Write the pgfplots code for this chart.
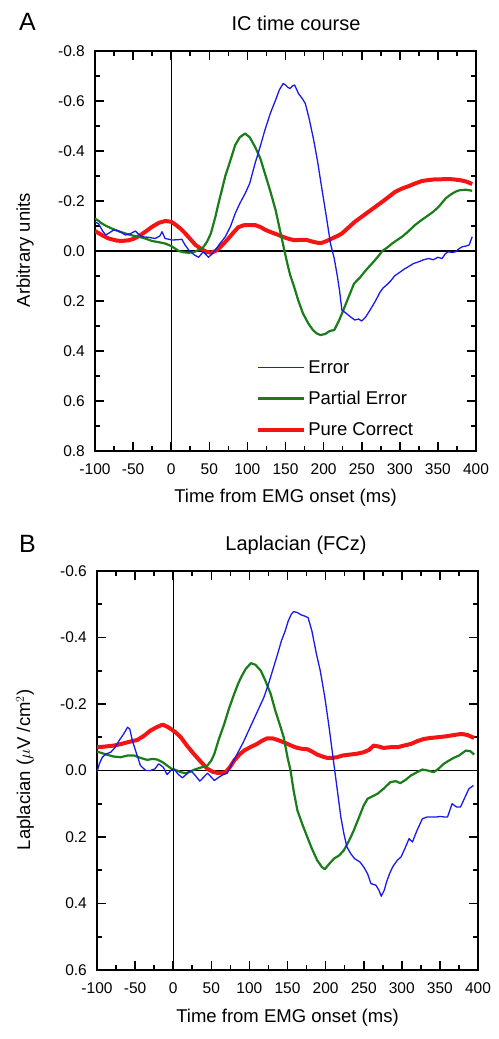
\documentclass[border=0pt]{standalone}
\usepackage{pgfplots}
\pgfplotsset{compat=1.18}
\usepackage{fontspec}
\setmainfont{Liberation Sans}
\definecolor{cblue}{RGB}{25,25,235}
\definecolor{cgreen}{RGB}{25,125,25}
\definecolor{cred}{RGB}{245,20,20}
\pgfplotsset{
  myaxis/.style={
    scale only axis, width=381bp,
    xmin=-100, xmax=400,
    xtick={-100,-50,...,400},
    xticklabels={-100,-50,0,50,100,150,200,250,300,350,400},
    minor x tick num=1, minor y tick num=1,
    tick align=inside,
    major tick length=9bp, minor tick length=5bp,
    separate axis lines,
    every outer x axis line/.append style={line width=2bp, line cap=rect},
    every outer y axis line/.append style={line width=2bp, line cap=rect},
    every tick/.style={black, line width=1.6bp},
    y dir=reverse,
    tick label style={font=\fontsize{15.5bp}{18bp}\selectfont},
    yticklabel style={inner sep=0pt, anchor=east, xshift=-10bp},
    xticklabel style={inner sep=0pt, anchor=north, yshift=-12bp},
    legend style={draw=none, fill=none, font=\fontsize{18.5bp}{22bp}\selectfont, row sep=12.5bp},
    legend cell align=left,
    legend image code/.code={\draw[##1] (0bp,0bp) -- (46bp,0bp);},
  },
  zl/.style={black, line width=1.4bp, forget plot},
  sb/.style={cblue, line width=1.3bp, line join=round},
  sg/.style={cgreen, line width=2.2bp, line join=round},
  sr/.style={cred, line width=4bp, line join=round},
}
\begin{document}
\begin{tikzpicture}
\path[use as bounding box] (0bp,0bp) rectangle (499bp,-1039bp);
% Panel A
\node[font=\fontsize{25bp}{28bp}\selectfont] at (27.5bp,-22bp) {A};
\node[font=\fontsize{20bp}{24bp}\selectfont] at (296bp,-23bp) {IC time course};
\node[font=\fontsize{18.5bp}{22bp}\selectfont] at (285.5bp,-498bp) {Time from EMG onset (ms)};
\node[font=\fontsize{18.5bp}{22bp}\selectfont, rotate=90] at (25bp,-250bp) {Arbitrary units};
\begin{axis}[myaxis, at={(95bp,-451bp)}, anchor=south west, height=400bp,
  ymin=-0.8, ymax=0.8, ytick={-0.8,-0.6,...,0.81},
  yticklabels={-0.8,-0.6,-0.4,-0.2,0.0,0.2,0.4,0.6,0.8},
  legend style={at={(axis description cs:0.415,0.237)}, anchor=north west}]
\addlegendimage{sb}\addlegendentry{Error}
\addlegendimage{sg}\addlegendentry{Partial Error}
\addlegendimage{sr}\addlegendentry{Pure Correct}
\addplot[zl] coordinates {(-100,0) (400,0)};
\addplot[zl] coordinates {(0,-0.8) (0,0.8)};
\addplot[sr, forget plot] coordinates {
(-100,-0.08) (-90,-0.062) (-82,-0.05) (-72,-0.042) (-65,-0.04) (-56,-0.043) (-50,-0.048) (-42,-0.06) (-34,-0.077) (-25,-0.097) (-16,-0.113) (-8,-0.12) (0,-0.117) (5,-0.107) (12,-0.09) (18,-0.072) (25,-0.048) (32,-0.024) (40,-0.007) (46,0.003) (52,0.007) (58,0.0) (63,-0.012) (69,-0.03) (75,-0.05) (82,-0.075) (88,-0.095) (95,-0.103) (102,-0.104) (110,-0.104) (117,-0.096) (124,-0.084) (132,-0.074) (141,-0.064) (148,-0.055) (155,-0.048) (162,-0.043) (170,-0.045) (178,-0.044) (186,-0.037) (192,-0.033) (198,-0.033) (204,-0.04) (211,-0.05) (218,-0.06) (224,-0.07) (232,-0.092) (241,-0.117) (250,-0.137) (259,-0.157) (268,-0.177) (277,-0.197) (286,-0.218) (294,-0.237) (303,-0.25) (312,-0.26) (320,-0.27) (329,-0.28) (338,-0.284) (347,-0.287) (355,-0.287) (364,-0.288) (372,-0.286) (380,-0.283) (388,-0.277) (395,-0.268)};
\addplot[sg, forget plot] coordinates {
(-100,-0.13) (-95,-0.12) (-91,-0.11) (-85,-0.1) (-78,-0.09) (-70,-0.08) (-60,-0.07) (-52,-0.063) (-43,-0.057) (-34,-0.05) (-25,-0.04) (-16,-0.035) (-8,-0.03) (0,-0.02) (5,-0.01) (10,0.0) (16,0.005) (23,0.007) (30,0.004) (36,-0.004) (42,-0.015) (47,-0.037) (52,-0.07) (58,-0.137) (62,-0.19) (67,-0.25) (71,-0.3) (75,-0.337) (80,-0.385) (84,-0.424) (90,-0.455) (97,-0.47) (103,-0.455) (110,-0.417) (117,-0.37) (123,-0.31) (130,-0.24) (137,-0.164) (143,-0.08) (148,-0.01) (152,0.045) (156,0.095) (161,0.14) (167,0.2) (173,0.25) (180,0.29) (186,0.316) (191,0.33) (196,0.336) (202,0.332) (208,0.32) (214,0.316) (220,0.28) (226,0.236) (232,0.19) (240,0.13) (248,0.105) (256,0.075) (265,0.045) (272,0.02) (277,0.0) (284,-0.015) (290,-0.03) (297,-0.045) (303,-0.057) (311,-0.078) (320,-0.104) (329,-0.125) (338,-0.144) (345,-0.16) (351,-0.177) (356,-0.195) (360,-0.21) (365,-0.222) (370,-0.232) (375,-0.24) (380,-0.244) (387,-0.245) (395,-0.241)};
\addplot[sb, forget plot] coordinates {
(-100,-0.117) (-95,-0.108) (-90,-0.08) (-86,-0.064) (-80,-0.075) (-75.5,-0.084) (-70,-0.082) (-67,-0.077) (-60,-0.064) (-53,-0.07) (-47,-0.08) (-42,-0.065) (-38,-0.057) (-30,-0.055) (-21,-0.05) (-15,-0.06) (-12,-0.077) (-8,-0.05) (-3,-0.047) (1,-0.044) (8,-0.045) (14,-0.047) (18,-0.025) (23,-0.004) (30,0.015) (36,0.025) (42,0.003) (49,0.025) (54,0.01) (58,-0.004) (64,-0.03) (71,-0.057) (78,-0.1) (84,-0.15) (90,-0.19) (97,-0.23) (103,-0.27) (110,-0.35) (117,-0.42) (123,-0.484) (130,-0.55) (137,-0.604) (142,-0.645) (147,-0.67) (150,-0.664) (153,-0.655) (156,-0.65) (159,-0.66) (162,-0.664) (167,-0.63) (172,-0.61) (176,-0.59) (181,-0.53) (187,-0.444) (192,-0.36) (198,-0.244) (204,-0.13) (209,-0.03) (214,0.03) (218,0.1) (221,0.16) (224,0.236) (230,0.25) (236,0.265) (241,0.276) (246,0.272) (250,0.28) (255,0.265) (261,0.236) (268,0.2) (274,0.165) (278,0.148) (283,0.135) (288,0.12) (293,0.1) (300,0.085) (306,0.072) (311,0.063) (318,0.05) (325,0.043) (331,0.035) (338,0.03) (344,0.035) (350,0.025) (355.5,0.03) (360,0.01) (364,0.003) (369,0.006) (373,0.003) (378,-0.01) (382,-0.017) (387,-0.02) (391,-0.024) (395,-0.057)};
\end{axis}
% Panel B
\node[font=\fontsize{25bp}{28bp}\selectfont] at (27.5bp,-544bp) {B};
\node[font=\fontsize{20bp}{24bp}\selectfont] at (296bp,-545bp) {Laplacian (FCz)};
\node[font=\fontsize{18.5bp}{22bp}\selectfont] at (287.5bp,-1018bp) {Time from EMG onset (ms)};
\node[font=\fontsize{18.5bp}{22bp}\selectfont, rotate=90] at (25bp,-770bp) {Laplacian ($\mu$V /cm$^2$)};
\begin{axis}[myaxis, at={(97bp,-970bp)}, anchor=south west, height=399bp,
  ymin=-0.6, ymax=0.6, ytick={-0.6,-0.4,...,0.61},
  yticklabels={-0.6,-0.4,-0.2,0.0,0.2,0.4,0.6}]
\addplot[zl] coordinates {(-100,0) (400,0)};
\addplot[zl] coordinates {(0,-0.6) (0,0.6)};
\addplot[sr] coordinates {
(-100,-0.07) (-90,-0.072) (-78,-0.075) (-68,-0.08) (-60,-0.085) (-47,-0.092) (-38,-0.105) (-30,-0.12) (-22,-0.13) (-14,-0.138) (-8,-0.132) (-3,-0.125) (3,-0.115) (10,-0.1) (18,-0.075) (27,-0.05) (36,-0.027) (45,-0.005) (52,0.004) (58,0.007) (64,0.007) (69,0.005) (75,-0.012) (80,-0.03) (87,-0.048) (93,-0.06) (101,-0.07) (110,-0.08) (117,-0.09) (123.5,-0.097) (130,-0.097) (137,-0.092) (145,-0.085) (152,-0.078) (158,-0.072) (163,-0.068) (170,-0.065) (176,-0.064) (183,-0.056) (189,-0.048) (196,-0.042) (202,-0.038) (208,-0.038) (215,-0.04) (222,-0.045) (232,-0.048) (240,-0.05) (250,-0.055) (257,-0.062) (263,-0.075) (270,-0.072) (276,-0.068) (285,-0.07) (294,-0.07) (303,-0.075) (312,-0.08) (320,-0.088) (329,-0.095) (338,-0.098) (347,-0.1) (355,-0.102) (364,-0.105) (372,-0.108) (378,-0.11) (386,-0.107) (395,-0.098)};
\addplot[sg] coordinates {
(-100,-0.057) (-93,-0.052) (-86,-0.047) (-78,-0.042) (-69,-0.04) (-60,-0.045) (-51,-0.045) (-43,-0.038) (-34,-0.032) (-27,-0.035) (-21,-0.033) (-14,-0.025) (-8,-0.015) (-2,-0.005) (5,0.0) (10,0.005) (16,0.008) (22,0.004) (27,-0.002) (35,-0.008) (45,-0.015) (50,-0.03) (54,-0.05) (60,-0.095) (67,-0.14) (73,-0.185) (80,-0.23) (85,-0.26) (89,-0.28) (95,-0.305) (102,-0.323) (108,-0.318) (115,-0.3) (121,-0.27) (128,-0.23) (134,-0.18) (141,-0.13) (145,-0.1) (150,-0.04) (154,0.0) (158,0.06) (163,0.12) (170,0.165) (176,0.2) (182,0.235) (189,0.27) (195,0.29) (199,0.297) (205,0.28) (211,0.265) (218,0.255) (224,0.24) (231,0.21) (237,0.18) (244,0.14) (250,0.105) (255,0.085) (262,0.077) (268,0.07) (276,0.055) (285,0.035) (292,0.032) (298,0.038) (305,0.028) (312,0.015) (320,0.005) (327,-0.003) (334,0.0) (342,0.005) (348,-0.005) (355,-0.02) (362,-0.03) (368,-0.038) (375,-0.045) (384,-0.06) (390,-0.058) (395,-0.048)};
\addplot[sb] coordinates {
(-100,0.005) (-97,-0.02) (-93,-0.04) (-88,-0.05) (-82,-0.055) (-76,-0.07) (-71,-0.09) (-65,-0.11) (-60,-0.13) (-57,-0.125) (-53.6,-0.09) (-48,-0.05) (-43,-0.015) (-36,0.0) (-30,0.0) (-24,-0.005) (-19,-0.02) (-13,-0.01) (-8,0.012) (-3,0.0) (1,-0.005) (6,0.01) (12,0.022) (18,0.01) (23,0.0) (29,0.015) (35,0.032) (40,0.02) (45,0.008) (50,0.02) (54,0.03) (60,0.02) (66,0.012) (71,0.008) (77,-0.02) (84,-0.05) (92,-0.085) (101,-0.13) (110,-0.175) (119,-0.22) (125,-0.26) (131,-0.305) (137,-0.35) (142,-0.39) (147,-0.42) (151,-0.45) (155,-0.47) (158,-0.478) (163,-0.475) (168,-0.468) (172,-0.465) (177,-0.46) (182,-0.42) (188,-0.35) (193,-0.3) (199,-0.22) (204,-0.14) (208,-0.07) (212,0.0) (216,0.07) (220,0.14) (224,0.19) (228,0.23) (233,0.25) (238,0.265) (245,0.275) (250,0.29) (255,0.31) (259.5,0.34) (266,0.345) (270,0.36) (273,0.378) (277,0.36) (280,0.335) (284,0.31) (288,0.29) (294,0.27) (299,0.26) (304,0.235) (309.5,0.205) (314,0.215) (320,0.18) (327,0.145) (333,0.14) (338,0.14) (345,0.14) (351,0.138) (356,0.14) (360,0.14) (363,0.12) (366,0.1) (372,0.11) (377,0.11) (382,0.085) (388,0.055) (394,0.045)};
\end{axis}
\end{tikzpicture}
\end{document}
